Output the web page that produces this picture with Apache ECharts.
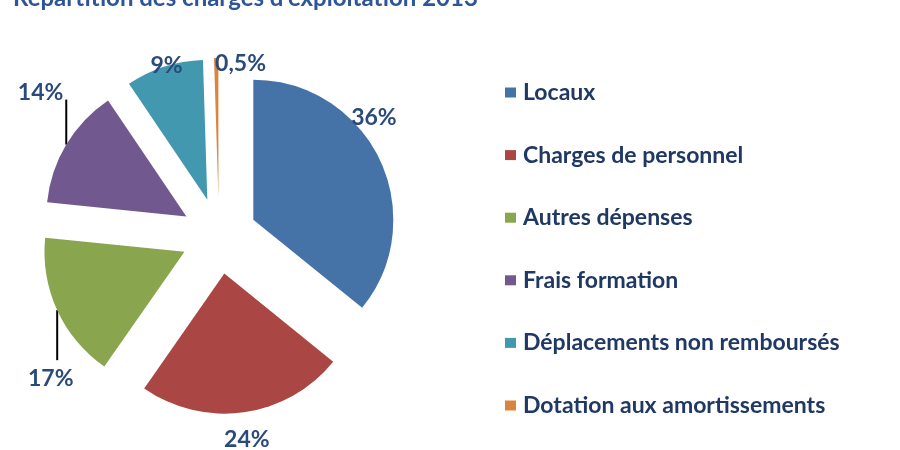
<!DOCTYPE html>
<html>
<head>
<meta charset="utf-8">
<script src="https://cdn.jsdelivr.net/npm/echarts@6/dist/echarts.min.js"></script>
<style>
  html, body { margin: 0; padding: 0; background: #fff; }
  #chart { width: 900px; height: 450px; }
</style>
</head>
<body>
<div id="chart"></div>
<script>
var categories = ['Locaux', 'Charges de personnel', 'Autres dépenses', 'Frais formation', 'Déplacements non remboursés', 'Dotation aux amortissements'];
var shares = [36, 24, 17, 14, 9, 0.5];
var colors = ['#4572A7', '#AA4643', '#89A54E', '#71588F', '#4198AF', '#DB843D'];

// label nudges (dx, dy) per slice, to sit where the original had them
var labelShift = [[-57, -35], [-37, 12], [45, 62], [25, -44], [38, 13], [65, 21]];
// slices whose labels hang on a vertical leader line: length in px (+ down, - up)
var leader = {2: 50, 3: -45};

var chart = echarts.init(document.getElementById('chart'));

function pct(v) {
  return String(v).replace('.', ',') + '%';
}

var data = categories.map(function (name, i) {
  return {
    name: name,
    value: shares[i],
    selected: true,
    itemStyle: { color: colors[i] },
    labelLine: { show: leader[i] !== undefined }
  };
});

chart.setOption({
  animation: false,
  title: {
    text: 'Répartition des charges d’exploitation 2013',
    left: 8,
    top: -19,
    textStyle: { fontFamily: 'Lato', fontWeight: 'bold', fontSize: 24, color: '#2E5597' }
  },
  legend: {
    orient: 'vertical',
    left: 500,
    top: 76,
    itemWidth: 11,
    itemHeight: 10,
    itemGap: 39.6,
    icon: 'rect',
    selectedMode: false,
    textStyle: { fontFamily: 'Lato', fontWeight: 'bold', fontSize: 23, color: '#1F3864', padding: [0, 0, 0, 2] },
    data: categories
  },
  series: [{
    type: 'pie',
    center: [219, 236],
    radius: 140,
    startAngle: 90,
    clockwise: true,
    selectedMode: 'multiple',
    selectedOffset: 38,
    avoidLabelOverlap: false,
    data: data,
    label: {
      position: 'outside',
      formatter: function (p) { return pct(p.value); },
      fontFamily: 'Lato',
      fontWeight: 'bold',
      fontSize: 23,
      color: '#2B4A7C'
    },
    labelLine: {
      show: false,
      length: 15,
      length2: 10,
      lineStyle: { color: '#000', width: 2 }
    },
    labelLayout: function (p) {
      var s = labelShift[p.dataIndex];
      var out = { dx: s[0], dy: s[1] };
      var len = leader[p.dataIndex];
      if (len !== undefined && p.labelLinePoints) {
        var a = p.labelLinePoints[0];
        var b = [a[0], a[1] + len];
        out.labelLinePoints = [a, b, b];
      }
      return out;
    }
  }]
});
</script>
</body>
</html>
